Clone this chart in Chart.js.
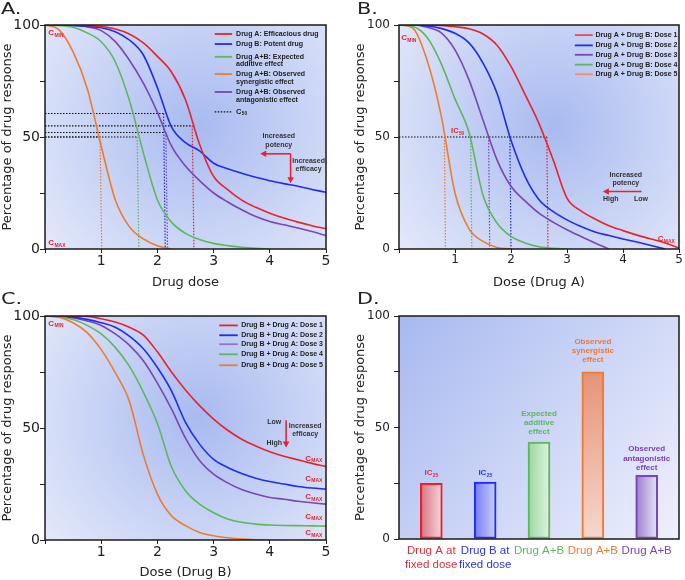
<!DOCTYPE html>
<html lang="en">
<head>
  <meta charset="UTF-8" />
  <title>Drug combination dose-response</title>
  <script src="https://cdn.jsdelivr.net/npm/chart.js"></script>
  <style>
    body { margin: 0; background: #fff; }
    #wrap { position: relative; width: 685px; height: 580px; }
    canvas { position: absolute; }
  </style>
</head>
<body>
<div id="wrap">
  <canvas id="chartA" width="340" height="290" style="left:0;top:0"></canvas>
  <canvas id="chartB" width="345" height="290" style="left:340px;top:0"></canvas>
  <canvas id="chartC" width="340" height="290" style="left:0;top:290px"></canvas>
  <canvas id="chartD" width="345" height="290" style="left:340px;top:290px"></canvas>
</div>
<script>
  // shared dose grid
  const dose = [0,0.25,0.5,0.75,1,1.25,1.5,1.75,2,2.25,2.5,2.75,3,3.25,3.5,3.75,4,4.25,4.5,4.75,5];

  // panel A
  const aDrugA    = [100,100,100,99.8,99.3,98.2,96,92,86,79,66.6,46.8,32.4,26.5,21.8,18.6,16,13.8,12,10.4,9];
  const aDrugB    = [100,100,99.8,99.4,98.8,97,93.3,86.6,72,54.5,47.5,43.8,38.3,35.8,33.8,32,30.5,29.2,28,26.6,25.3];
  const aAdditive = [100,99.8,99,96.5,92.5,83.6,66.5,43,22,12,7,4.2,2.5,1.5,0.8,0.3,0,null,null,null,null];
  const aSynergy  = [100,97.8,88,71.8,46,22,10,4.5,1.5,0,null,null,null,null,null,null,null,null,null,null,null];
  const aAntagon  = [100,100,99.8,99.2,97.5,92.6,84.4,74,61,46,37,30.5,25,21,17.5,14.5,12.3,10.8,9.4,7.8,6];
  const aC50x = [0.98, 1.64, 2.11, 2.15, 2.62];
  const aC50y = [50, 50, 60.5, 52, 55];

  // panel B (Drug A dose, Drug B fixed doses 1-5)
  const bDose1 = [100,100,100,99.8,99.2,98.3,96,91,81.5,69,56,40,22.7,17,13.4,10.4,8.2,6.2,4.5,2.7,0.5];
  const bDose2 = [100,100,99.6,98.5,96.3,92,83,69.5,48.5,32.4,22,16.8,13,10,7.6,6,4.5,3.1,1.6,0,null];
  const bDose3 = [100,100,99,96.6,88.9,75.5,57.6,39.8,28,21.5,16,12,8.6,5.6,2.7,0,null,null,null,null,null];
  const bDose4 = [100,99.3,94.5,83,67,52,24,11.6,5.6,2.7,1,0.3,0,null,null,null,null,null,null,null,null];
  const bDose5 = [100,98.5,84.4,60,25,9,3.4,0.7,0,null,null,null,null,null,null,null,null,null,null,null,null];
  const bIC50x = [0.81, 1.28, 1.6, 1.98, 2.64];

  // panel C (Drug B dose, Drug A fixed doses 1-5)
  const cDose1 = [100,100,100,99.8,98.8,97.3,95,91.5,84,75,67,60,54,49,45,42,39.4,37.4,35.8,34.2,32.8];
  const cDose2 = [100,100,99.5,98.5,97,95,91,85.4,77,66.6,52.5,42.8,36,32.4,29.7,27.6,26.1,25,23.9,23.2,22.7];
  const cDose3 = [100,100,99.2,97.8,95.8,92,87,80,70,58.5,45.5,35.5,29.4,25.5,22.5,20.5,19,18.2,17.3,16.6,16];
  const cDose4 = [100,99.5,98.4,95.8,92,86,77.6,66,52,32.7,22,16,12.2,9.4,7.9,7.1,6.7,6.5,6.4,6.3,6.2];
  const cDose5 = [100,99.5,97,92.6,85,74.7,62,38,20.5,10.8,6.4,3.4,1.9,1,0.4,0.1,0,null,null,null,null];

  // panel D
  const dLabels = [['Drug A at','fixed dose'],['Drug B at','fixed dose'],['Drug A+B'],['Drug A+B'],['Drug A+B']];
  const dValues = [25, 25.5, 43.5, 75, 28.5];

  const RED = '#e8232b', BLUE = '#1f2cf2', GREEN = '#5cb85c', ORANGE = '#f07b2c', PURPLE = '#7b45b5';
  const DF = "'DejaVu Sans', sans-serif";
  const LF = "'Liberation Sans', Arial, sans-serif";
  const INK = '#222';

  function pts(xs, ys) {
    const out = [];
    ys.forEach((y, i) => { if (y !== null) out.push({ x: xs[i], y: y }); });
    return out;
  }
  function curve(label, ys, color) {
    return { label, data: pts(dose, ys), borderColor: color, borderWidth: 1.6, pointRadius: 0,
             cubicInterpolationMode: 'monotone', fill: false, order: 1 };
  }
  function dotted(data, color) {
    return { data, borderColor: color, borderWidth: 1.2, borderDash: [1.5, 1.5], pointRadius: 0,
             tension: 0, fill: false, order: 5 };
  }

  function txt(ctx, s, x, y, color, size, align, bold) {
    ctx.font = (bold === false ? '' : 'bold ') + size + 'px ' + LF;
    ctx.fillStyle = color; ctx.textAlign = align || 'left'; ctx.textBaseline = 'middle';
    ctx.fillText(s, x, y);
  }
  function subTxt(ctx, main, sub, x, y, color, size, align) {
    ctx.font = 'bold ' + size + 'px ' + LF; const w1 = ctx.measureText(main).width;
    ctx.font = 'bold ' + (size * 0.62) + 'px ' + LF; const w2 = ctx.measureText(sub).width;
    const x0 = align === 'center' ? x - (w1 + w2) / 2 : x;
    ctx.fillStyle = color; ctx.textAlign = 'left'; ctx.textBaseline = 'middle';
    ctx.font = 'bold ' + size + 'px ' + LF; ctx.fillText(main, x0, y);
    ctx.font = 'bold ' + (size * 0.62) + 'px ' + LF; ctx.fillText(sub, x0 + w1 + 0.3, y + size * 0.3);
  }
  function arrow(ctx, p1, p2, color) {
    const a = Math.atan2(p2.y - p1.y, p2.x - p1.x), h = 6, w = 3.3;
    ctx.save();
    ctx.strokeStyle = color; ctx.fillStyle = color; ctx.lineWidth = 1.6;
    ctx.beginPath(); ctx.moveTo(p1.x, p1.y);
    ctx.lineTo(p2.x - Math.cos(a) * h * 0.8, p2.y - Math.sin(a) * h * 0.8); ctx.stroke();
    ctx.beginPath(); ctx.moveTo(p2.x, p2.y);
    ctx.lineTo(p2.x - h * Math.cos(a) + w * Math.sin(a), p2.y - h * Math.sin(a) - w * Math.cos(a));
    ctx.lineTo(p2.x - h * Math.cos(a) - w * Math.sin(a), p2.y - h * Math.sin(a) + w * Math.cos(a));
    ctx.closePath(); ctx.fill();
    ctx.restore();
  }
  function legend(ctx, P, rows, x0, x1, xt) {
    rows.forEach(r => {
      const a = P(x0, r.y), b = P(x1, r.y);
      ctx.save();
      ctx.strokeStyle = r.c; ctx.lineWidth = r.dash ? 1.3 : 1.8; ctx.setLineDash(r.dash || []);
      ctx.beginPath(); ctx.moveTo(a.x, a.y); ctx.lineTo(b.x, b.y); ctx.stroke();
      ctx.restore();
      const tx = P(xt, 0).x;
      if (r.sub) subTxt(ctx, r.t[0], r.sub, tx, a.y, INK, 7.5, 'left');
      else r.t.forEach((s, i) => txt(ctx, s, tx, a.y + i * 7.6, INK, 7, 'left'));
    });
  }

  function radialBg(chart) {
    const { ctx, chartArea: c } = chart;
    const g = ctx.createRadialGradient(c.left + c.width * 0.55, c.top + c.height * 0.45, 0,
                                       c.left + c.width * 0.55, c.top + c.height * 0.45, c.width * 0.75);
    g.addColorStop(0, 'rgb(168,186,240)');
    g.addColorStop(1, 'rgb(232,236,250)');
    ctx.fillStyle = g; ctx.fillRect(c.left, c.top, c.width, c.height);
  }
  function linearBg(chart) {
    const { ctx, chartArea: c } = chart;
    const g = ctx.createLinearGradient(c.left, c.top, c.right, c.bottom);
    g.addColorStop(0, 'rgb(168,185,240)');
    g.addColorStop(1, 'rgb(238,240,252)');
    ctx.fillStyle = g; ctx.fillRect(c.left, c.top, c.width, c.height);
  }

  function decor(letter, lx, bg, draw) {
    return {
      id: 'decor',
      beforeDraw(chart) { bg(chart); },
      afterDatasetsDraw(chart) {
        const { ctx, chartArea: c } = chart;
        const P = (x, y) => ({ x: chart.scales.x.getPixelForValue(x), y: chart.scales.y.getPixelForValue(y) });
        ctx.save();
        ctx.strokeStyle = '#1a1a1a'; ctx.lineWidth = 1.5;
        ctx.strokeRect(c.left, c.top, c.width, c.height);
        draw(ctx, P);
        ctx.translate(lx, 14); ctx.scale(1.3, 1);
        ctx.font = '16px ' + DF; ctx.fillStyle = INK; ctx.textAlign = 'left'; ctx.textBaseline = 'alphabetic';
        ctx.fillText(letter, 0, 0);
        ctx.restore();
      }
    };
  }

  function curveScales(p) {
    return {
      x: {
        type: 'linear', min: 0, max: 5,
        afterFit: s => { s.height = p.xh; },
        ticks: { stepSize: 1, maxRotation: 0, padding: 0, color: INK, font: { family: DF, size: p.tf },
                 callback: v => v === 0 ? '' : v },
        grid: { display: true, drawOnChartArea: false, tickLength: 4, color: INK },
        border: { display: false },
        title: { display: true, text: p.xt, color: INK, font: { family: DF, size: 13 }, padding: 0 }
      },
      y: {
        min: 0, max: 100,
        afterFit: s => { s.width = p.yw; },
        ticks: { stepSize: 25, padding: p.yp, color: INK, font: { family: DF, size: p.tf },
                 callback: v => v % 50 === 0 ? v : '' },
        grid: { display: true, drawOnChartArea: false, tickLength: 5, color: INK },
        border: { display: false },
        title: { display: true, text: 'Percentage of drug response', color: INK, font: { family: DF, size: 13 }, padding: 0 }
      }
    };
  }

  const baseOpts = (pad, scales) => ({
    responsive: false, animation: false,
    layout: { padding: pad },
    plugins: { legend: { display: false }, tooltip: { enabled: false } },
    scales
  });

  // ---------- A ----------
  const aColors = [ORANGE, GREEN, BLUE, PURPLE, RED];
  const aDots = [];
  aC50x.forEach((x, i) => {
    aDots.push(dotted([{ x: 0, y: aC50y[i] }, { x: x, y: aC50y[i] }], '#111'));
    aDots.push(dotted([{ x: x, y: aC50y[i] }, { x: x + 0.03, y: 0 }], aColors[i]));
  });
  new Chart(document.getElementById('chartA'), {
    type: 'line',
    data: { datasets: [
      curve('Drug A: Efficacious drug', aDrugA, RED),
      curve('Drug B: Potent drug', aDrugB, BLUE),
      curve('Drug A+B: Expected additive effect', aAdditive, GREEN),
      curve('Drug A+B: Observed synergistic effect', aSynergy, ORANGE),
      curve('Drug A+B: Observed antagonistic effect', aAntagon, PURPLE)
    ].concat(aDots) },
    options: baseOpts({ top: 25, right: 14, left: 0, bottom: 0 },
      curveScales({ xh: 41, yw: 45, yp: 0, tf: 14, xt: 'Drug dose' })),
    plugins: [decor('A.', 1, radialBg, (ctx, P) => {
      subTxt(ctx, 'C', 'MIN', P(0.06, 96.3).x, P(0.06, 96.3).y, RED, 8, 'left');
      subTxt(ctx, 'C', 'MAX', P(0.06, 2.6).x, P(0.06, 2.6).y, RED, 8, 'left');
      legend(ctx, P, [
        { t: ['Drug A: Efficacious drug'], c: RED, y: 96 },
        { t: ['Drug B: Potent drug'], c: BLUE, y: 91.5 },
        { t: ['Drug A+B: Expected', 'additive effect'], c: GREEN, y: 85.8 },
        { t: ['Drug A+B: Observed', 'synergistic effect'], c: ORANGE, y: 78.1 },
        { t: ['Drug A+B: Observed', 'antagonistic effect'], c: PURPLE, y: 70.1 },
        { t: ['C'], sub: '50', c: '#111', y: 61.2, dash: [1.5, 1.5] }
      ], 3.02, 3.33, 3.4);
      const corner = P(4.37, 42.5);
      arrow(ctx, corner, P(3.83, 42.5), RED);
      arrow(ctx, corner, P(4.37, 29.4), RED);
      txt(ctx, 'Increased', P(4.16, 50.2).x, P(4.16, 50.2).y, '#333', 7, 'center');
      txt(ctx, 'potency', P(4.16, 46.2).x, P(4.16, 46.2).y, '#333', 7, 'center');
      txt(ctx, 'Increased', P(4.69, 39.1).x, P(4.69, 39.1).y, '#333', 7, 'center');
      txt(ctx, 'efficacy', P(4.69, 35.7).x, P(4.69, 35.7).y, '#333', 7, 'center');
    })]
  });

  // ---------- B ----------
  const bColors = [ORANGE, GREEN, PURPLE, BLUE, RED];
  const bDots = [dotted([{ x: 0, y: 50 }, { x: bIC50x[4], y: 50 }], '#111')];
  bIC50x.forEach((x, i) => bDots.push(dotted([{ x: x, y: 50 }, { x: x + 0.02, y: 0 }], bColors[i])));
  new Chart(document.getElementById('chartB'), {
    type: 'line',
    data: { datasets: [
      curve('Drug A + Drug B: Dose 1', bDose1, RED),
      curve('Drug A + Drug B: Dose 2', bDose2, BLUE),
      curve('Drug A + Drug B: Dose 3', bDose3, PURPLE),
      curve('Drug A + Drug B: Dose 4', bDose4, GREEN),
      curve('Drug A + Drug B: Dose 5', bDose5, ORANGE)
    ].concat(bDots) },
    options: baseOpts({ top: 25, right: 6, left: 13, bottom: 0 },
      curveScales({ xh: 41, yw: 46, yp: 4, tf: 12, xt: 'Dose (Drug A)' })),
    plugins: [decor('B.', 17, radialBg, (ctx, P) => {
      subTxt(ctx, 'C', 'MIN', P(0.04, 94.2).x, P(0.04, 94.2).y, RED, 8, 'left');
      subTxt(ctx, 'C', 'MAX', P(4.62, 4.5).x, P(4.62, 4.5).y, RED, 8, 'left');
      subTxt(ctx, 'IC', '50', P(0.93, 52.5).x, P(0.93, 52.5).y, RED, 7.5, 'left');
      legend(ctx, P, [
        { t: ['Drug A + Drug B: Dose 1'], c: '#e85050', y: 95.5 },
        { t: ['Drug A + Drug B: Dose 2'], c: BLUE, y: 90.9 },
        { t: ['Drug A + Drug B: Dose 3'], c: PURPLE, y: 86.7 },
        { t: ['Drug A + Drug B: Dose 4'], c: GREEN, y: 82.3 },
        { t: ['Drug A + Drug B: Dose 5'], c: '#f09060', y: 78 }
      ], 3.14, 3.46, 3.51);
      txt(ctx, 'Increased', P(4.05, 33.1).x, P(4.05, 33.1).y, '#333', 7, 'center');
      txt(ctx, 'potency', P(4.05, 29.4).x, P(4.05, 29.4).y, '#333', 7, 'center');
      arrow(ctx, P(4.33, 25.7), P(3.64, 25.7), RED);
      txt(ctx, 'High', P(3.78, 22.3).x, P(3.78, 22.3).y, '#333', 7, 'center');
      txt(ctx, 'Low', P(4.32, 22.3).x, P(4.32, 22.3).y, '#333', 7, 'center');
    })]
  });

  // ---------- C ----------
  new Chart(document.getElementById('chartC'), {
    type: 'line',
    data: { datasets: [
      curve('Drug B + Drug A: Dose 1', cDose1, RED),
      curve('Drug B + Drug A: Dose 2', cDose2, BLUE),
      curve('Drug B + Drug A: Dose 3', cDose3, PURPLE),
      curve('Drug B + Drug A: Dose 4', cDose4, GREEN),
      curve('Drug B + Drug A: Dose 5', cDose5, ORANGE)
    ] },
    options: baseOpts({ top: 26, right: 14, left: 0, bottom: 0 },
      curveScales({ xh: 40, yw: 45, yp: 0, tf: 14, xt: 'Dose (Drug B)' })),
    plugins: [decor('C.', 1, radialBg, (ctx, P) => {
      subTxt(ctx, 'C', 'MIN', P(0.06, 96.6).x, P(0.06, 96.6).y, RED, 8, 'left');
      [36.4, 27.5, 19.3, 10.4, 3].forEach(y => subTxt(ctx, 'C', 'MAX', P(4.63, y).x, P(4.63, y).y, RED, 8, 'left'));
      legend(ctx, P, [
        { t: ['Drug B + Drug A: Dose 1'], c: RED, y: 95.8 },
        { t: ['Drug B + Drug A: Dose 2'], c: BLUE, y: 91.4 },
        { t: ['Drug B + Drug A: Dose 3'], c: '#9a70d0', y: 87.4 },
        { t: ['Drug B + Drug A: Dose 4'], c: GREEN, y: 82.9 },
        { t: ['Drug B + Drug A: Dose 5'], c: ORANGE, y: 78 }
      ], 3.1, 3.43, 3.49);
      txt(ctx, 'Low', P(4.08, 52.5).x, P(4.08, 52.5).y, '#333', 7, 'center');
      txt(ctx, 'High', P(4.08, 43.1).x, P(4.08, 43.1).y, '#333', 7, 'center');
      arrow(ctx, P(4.29, 53.5), P(4.29, 41.3), RED);
      txt(ctx, 'Increased', P(4.63, 50.8).x, P(4.63, 50.8).y, '#333', 7, 'center');
      txt(ctx, 'efficacy', P(4.63, 47.3).x, P(4.63, 47.3).y, '#333', 7, 'center');
    })]
  });

  // ---------- D ----------
  const dBorders = [RED, BLUE, GREEN, ORANGE, PURPLE];
  const dFillFrom = ['rgba(222,100,110,0.85)', 'rgba(105,115,245,0.9)', 'rgba(150,215,150,0.9)', 'rgba(232,140,105,0.9)', 'rgba(150,115,200,0.9)'];
  const dFillTo = ['rgba(248,218,222,0.95)', 'rgba(205,210,252,0.95)', 'rgba(225,244,225,0.95)', 'rgba(248,215,205,0.95)', 'rgba(232,228,246,0.95)'];
  const dTextCols = ['#e0303a', '#2a35e8', '#5cb85c', '#ef7a35', '#7b40b0'];
  new Chart(document.getElementById('chartD'), {
    type: 'bar',
    data: { datasets: [{
      data: dValues.map((v, i) => ({ x: i, y: v })),
      barThickness: 22, borderWidth: 2, borderSkipped: false,
      borderColor: dBorders,
      backgroundColor: c => {
        const chart = c.chart;
        if (!chart.chartArea || c.raw === undefined) return dFillTo[c.dataIndex || 0];
        const i = c.dataIndex, xs = chart.scales.x.getPixelForValue(c.raw.x);
        const g = i === 3
          ? c.chart.ctx.createLinearGradient(xs - 11, chart.scales.y.getPixelForValue(c.raw.y), xs + 11, chart.chartArea.bottom)
          : c.chart.ctx.createLinearGradient(xs - 11, 0, xs + 11, 0);
        g.addColorStop(0, dFillFrom[i]); g.addColorStop(1, dFillTo[i]);
        return g;
      }
    }] },
    options: baseOpts({ top: 26, right: 6, left: 13, bottom: 0 }, {
      x: {
        type: 'linear', min: -0.6, max: 4.6, offset: false,
        afterBuildTicks: s => { s.ticks = dValues.map((v, i) => ({ value: i })); },
        afterFit: s => { s.height = 41; },
        ticks: { padding: -3, maxRotation: 0, autoSkip: false,
                 font: { family: LF, size: 11.5, lineHeight: 1.2 },
                 color: c => dLabels[c.index] ? dTextCols[c.index] : INK,
                 callback: (v, i) => dLabels[i] },
        grid: { display: false, offset: false }, border: { display: false }
      },
      y: {
        min: 0, max: 100,
        afterFit: s => { s.width = 46; },
        ticks: { stepSize: 25, padding: 4, color: INK, font: { family: DF, size: 12 },
                 callback: v => v % 50 === 0 ? v : '' },
        grid: { display: true, drawOnChartArea: false, tickLength: 5, color: INK },
        border: { display: false },
        title: { display: true, text: 'Percentage of drug response', color: INK, font: { family: DF, size: 13 }, padding: 0 }
      }
    }),
    plugins: [decor('D.', 17, linearBg, (ctx, P) => {
      subTxt(ctx, 'IC', '25', P(0, 29.7).x, P(0, 29.7).y, dTextCols[0], 8, 'center');
      subTxt(ctx, 'IC', '25', P(1, 29.7).x, P(1, 29.7).y, dTextCols[1], 8, 'center');
      const notes = [
        [2, ['Expected', 'additive', 'effect'], [56.2, 52, 48]],
        [3, ['Observed', 'synergistic', 'effect'], [88.4, 84.4, 80.2]],
        [4, ['Observed', 'antagonistic', 'effect'], [40.3, 36.1, 32.1]]
      ];
      notes.forEach(n => n[1].forEach((s, k) => {
        const p = P(n[0], n[2][k]);
        txt(ctx, s, p.x, p.y, dTextCols[n[0]], 8, 'center');
      }));
    })]
  });
</script>
</body>
</html>
